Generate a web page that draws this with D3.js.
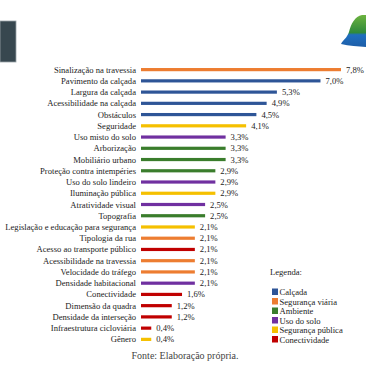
<!DOCTYPE html>
<html>
<head>
<meta charset="utf-8">
<script src="https://cdn.jsdelivr.net/npm/d3@7"></script>
<style>
  body { margin: 0; background: #fff; }
  text { font-family: "Liberation Serif", serif; }
</style>
</head>
<body>
<div id="chart"></div>
<script>
// Indicators, shares (%) and group of each bar
const labels = [
  "Sinalização na travessia", "Pavimento da calçada", "Largura da calçada",
  "Acessibilidade na calçada", "Obstáculos", "Seguridade", "Uso misto do solo",
  "Arborização", "Mobiliário urbano", "Proteção contra intempéries",
  "Uso do solo lindeiro", "Iluminação pública", "Atratividade visual", "Topografia",
  "Legislação e educação para segurança", "Tipologia da rua",
  "Acesso ao transporte público", "Acessibilidade na travessia",
  "Velocidade do tráfego", "Densidade habitacional", "Conectividade",
  "Dimensão da quadra", "Densidade da interseção", "Infraestrutura cicloviária", "Gênero"
];
const values = [7.8, 7.0, 5.3, 4.9, 4.5, 4.1, 3.3, 3.3, 3.3, 2.9, 2.9, 2.9, 2.5, 2.5,
  2.1, 2.1, 2.1, 2.1, 2.1, 2.1, 1.6, 1.2, 1.2, 0.4, 0.4];
const groups = ["Segurança viária", "Calçada", "Calçada", "Calçada", "Calçada",
  "Segurança pública", "Uso do solo", "Ambiente", "Ambiente", "Ambiente",
  "Uso do solo", "Segurança pública", "Uso do solo", "Ambiente",
  "Segurança pública", "Segurança viária", "Conectividade", "Segurança viária",
  "Segurança viária", "Uso do solo", "Conectividade", "Conectividade",
  "Conectividade", "Conectividade", "Segurança pública"];

const legendItems = ["Calçada", "Segurança viária", "Ambiente", "Uso do solo",
  "Segurança pública", "Conectividade"];
const legendColors = ["#2e5597", "#ed7d31", "#3a7d2c", "#7030a0", "#f5c000", "#c00000"];

const data = labels.map((l, i) => ({ label: l, value: values[i], group: groups[i] }));

const W = 366, H = 366;
const svg = d3.select("#chart").append("svg")
  .attr("width", W).attr("height", H);

// decorative page bits (slide edge + logo)
svg.append("rect")
  .attr("x", 0).attr("y", 21).attr("width", 16).attr("height", 41)
  .attr("fill", "#37474f").attr("stroke", "#9aa4a8").attr("stroke-width", 0.8);

const grad = svg.append("defs").append("linearGradient")
  .attr("id", "logo").attr("x1", 0).attr("y1", 0).attr("x2", 0).attr("y2", 1);
grad.append("stop").attr("offset", "0%").attr("stop-color", "#6cb33f");
grad.append("stop").attr("offset", "55%").attr("stop-color", "#2f8a3c");
grad.append("stop").attr("offset", "62%").attr("stop-color", "#1f6fc0");
grad.append("stop").attr("offset", "100%").attr("stop-color", "#1d5ea8");
svg.append("path")
  .attr("d", "M341,44 C343,40 347,38 349,32 C351,24 355,16 362,15 L366,15 L366,47 C358,46 349,46 341,44 Z")
  .attr("fill", "url(#logo)");

// scales
const x = d3.scaleLinear().domain([0, 7.8]).range([141, 341]);
const y = d3.scaleBand().domain(labels).range([64, 345]).paddingInner(0.7).paddingOuter(0.35);
const color = d3.scaleOrdinal().domain(legendItems).range(legendColors);

const rows = svg.append("g").selectAll("g")
  .data(data)
  .join("g");

rows.append("rect")
  .attr("x", x(0))
  .attr("y", d => y(d.label) + y.bandwidth() / 2 - 1.6)
  .attr("width", d => x(d.value) - x(0))
  .attr("height", 3.2)
  .attr("fill", d => color(d.group));

rows.append("text")
  .attr("x", x(0) - 5)
  .attr("y", d => y(d.label) + y.bandwidth() / 2)
  .attr("dy", "0.35em")
  .attr("text-anchor", "end")
  .attr("font-size", 8.6)
  .attr("fill", "#222")
  .text(d => d.label);

rows.append("text")
  .attr("x", d => x(d.value) + 5)
  .attr("y", d => y(d.label) + y.bandwidth() / 2)
  .attr("dy", "0.35em")
  .attr("font-size", 8.6)
  .attr("fill", "#222")
  .text(d => d3.format(".1f")(d.value).replace(".", ",") + "%");

// legend
const legend = svg.append("g").attr("transform", "translate(270,272)");
legend.append("text")
  .attr("x", 0).attr("y", 0).attr("dy", "0.35em")
  .attr("font-size", 8.6)
  .attr("fill", "#222")
  .text("Legenda:");
const li = legend.selectAll("g.item")
  .data(legendItems)
  .join("g")
  .attr("class", "item")
  .attr("transform", (d, i) => `translate(2,${20 + i * 9.5})`);
li.append("rect")
  .attr("x", 0).attr("y", -3.5).attr("width", 6).attr("height", 6.5)
  .attr("fill", d => color(d));
li.append("text")
  .attr("x", 7.5).attr("y", 0).attr("dy", "0.35em")
  .attr("font-size", 8.6)
  .attr("fill", "#222")
  .text(d => d);

// source note
svg.append("text")
  .attr("x", 185).attr("y", 355).attr("dy", "0.35em")
  .attr("text-anchor", "middle")
  .attr("font-size", 10)
  .attr("fill", "#444")
  .text("Fonte: Elaboração própria.");
</script>
</body>
</html>
